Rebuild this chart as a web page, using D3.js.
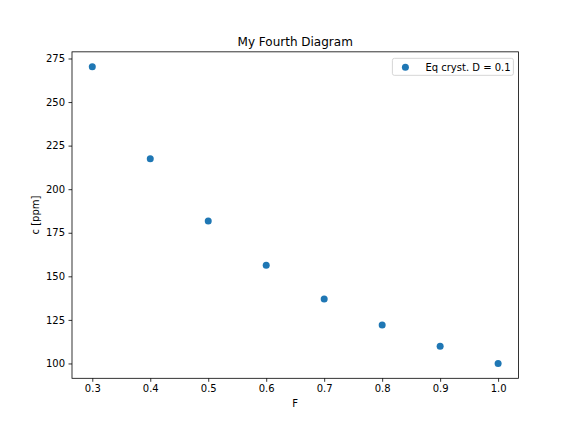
<!DOCTYPE html>
<html>
<head>
<meta charset="utf-8">
<script src="https://cdn.jsdelivr.net/npm/d3@7"></script>
<style>
  body { margin: 0; background: #fff; }
  text { font-family: "DejaVu Sans", sans-serif; fill: #000; }
</style>
</head>
<body>
<div id="chart"></div>
<script>
// melt fraction and concentration
var fractions = [0.3, 0.4, 0.5, 0.6, 0.7, 0.8, 0.9, 1.0];
var concentrations = [270.3, 217.4, 181.8, 156.3, 137.0, 122.0, 109.9, 100.0];
var xTicks = [0.3, 0.4, 0.5, 0.6, 0.7, 0.8, 0.9, 1.0];
var yTicks = [100, 125, 150, 175, 200, 225, 250, 275];
var seriesLabel = "Eq cryst. D = 0.1";

var width = 576, height = 432;
var margin = {left: 72, right: 57.6, top: 51.84, bottom: 53.7};
var innerW = width - margin.left - margin.right;
var innerH = height - margin.top - margin.bottom;

var svg = d3.select("#chart").append("svg")
    .attr("width", width)
    .attr("height", height);

var g = svg.append("g")
    .attr("transform", "translate(" + margin.left + "," + margin.top + ")");

// matplotlib style 5% padding
var xMin = d3.min(fractions), xMax = d3.max(fractions);
var yMin = d3.min(concentrations), yMax = d3.max(concentrations);
var xPad = (xMax - xMin) * 0.05, yPad = (yMax - yMin) * 0.05;

var x = d3.scaleLinear().domain([xMin - xPad, xMax + xPad]).range([0, innerW]);
var y = d3.scaleLinear().domain([yMin - yPad, yMax + yPad]).range([innerH, 0]);

var xAxis = g.append("g")
    .attr("transform", "translate(0," + innerH + ")")
    .call(d3.axisBottom(x).tickValues(xTicks).tickFormat(d3.format(".1f")).tickSizeOuter(0).tickSize(3.5).tickPadding(3.5));
var yAxis = g.append("g")
    .call(d3.axisLeft(y).tickValues(yTicks).tickSizeOuter(0).tickSize(3.5).tickPadding(3.5));

[xAxis, yAxis].forEach(function(a) {
    a.select(".domain").remove();
    a.selectAll("line").attr("stroke", "#000").attr("stroke-width", 0.8);
    a.selectAll("text").style("font-size", "10px").style("font-family", "DejaVu Sans");
});

// frame
g.append("rect")
    .attr("width", innerW)
    .attr("height", innerH)
    .attr("fill", "none")
    .attr("stroke", "#000")
    .attr("stroke-width", 0.8);

g.selectAll("circle.pt")
    .data(fractions)
    .enter()
    .append("circle")
    .attr("class", "pt")
    .attr("cx", function(d) { return x(d); })
    .attr("cy", function(d, i) { return y(concentrations[i]); })
    .attr("r", 3.5)
    .attr("fill", "#1f77b4");

// title and axis labels
svg.append("text")
    .attr("x", margin.left + innerW / 2)
    .attr("y", margin.top - 6)
    .attr("text-anchor", "middle")
    .style("font-size", "12px")
    .text("My Fourth Diagram");

svg.append("text")
    .attr("x", margin.left + innerW / 2)
    .attr("y", margin.top + innerH + 29)
    .attr("text-anchor", "middle")
    .style("font-size", "10px")
    .text("F");

svg.append("text")
    .attr("transform", "translate(39," + (margin.top + innerH / 2) + ") rotate(-90)")
    .attr("text-anchor", "middle")
    .style("font-size", "10px")
    .text("c [ppm]");

// legend
var legend = g.append("g")
    .attr("transform", "translate(" + (innerW - 126) + ",6.5)");
legend.append("rect")
    .attr("width", 121)
    .attr("height", 17)
    .attr("rx", 2)
    .attr("fill", "#fff")
    .attr("fill-opacity", 0.8)
    .attr("stroke", "#ccc")
    .attr("stroke-width", 0.8);
legend.append("circle")
    .attr("cx", 13)
    .attr("cy", 9)
    .attr("r", 3.5)
    .attr("fill", "#1f77b4");
legend.append("text")
    .attr("x", 33)
    .attr("y", 12.5)
    .style("font-size", "10px")
    .text(seriesLabel);
</script>
</body>
</html>
